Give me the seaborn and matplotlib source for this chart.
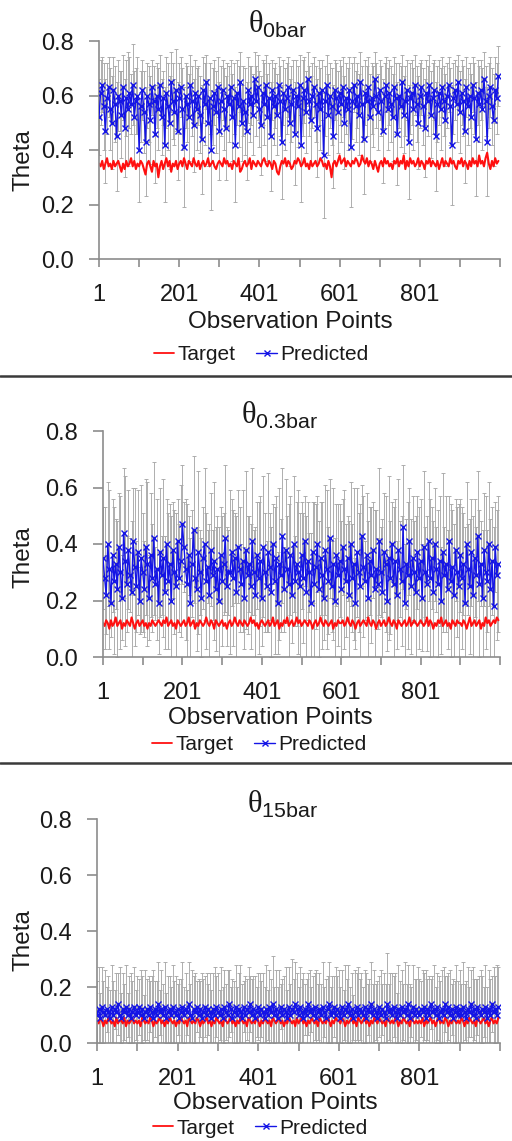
import numpy as np
import matplotlib
matplotlib.use("Agg")
import matplotlib.pyplot as plt
from matplotlib.lines import Line2D
import seaborn as sns

# Observation points (sampled every 4 points along the 1..1000 axis)
obs = np.arange(1, 1000, 4)

# Values in hundredths of theta
target_0bar = [35,34,36,33,35,37,34,35,33,36,34,35,36,34,32,35,33,36,34,35,37,34,36,33,35,
               34,36,35,33,31,35,36,34,32,36,34,35,30,34,36,33,35,37,34,36,32,35,34,36,33,
               35,36,34,37,35,33,36,35,34,37,35,34,36,33,35,36,34,35,37,34,35,36,34,33,35,
               36,35,34,37,35,36,34,35,33,36,35,34,37,32,33,35,36,34,35,37,33,36,35,34,36,
               35,34,36,37,35,34,36,35,33,36,35,32,31,34,36,35,37,34,36,35,33,34,36,35,37,
               36,34,35,37,34,35,33,36,34,35,36,34,35,37,36,34,35,33,36,34,30,35,36,34,36,
               38,35,36,37,34,36,35,34,36,35,37,36,34,35,38,36,35,37,34,36,35,33,36,34,32,
               35,36,34,37,35,36,34,35,33,36,35,37,34,36,35,38,33,36,34,37,35,36,34,35,37,
               34,36,35,33,36,35,37,34,36,35,34,36,33,35,37,34,36,35,34,37,35,36,34,33,36,
               35,37,34,36,35,33,36,34,37,35,36,34,38,35,36,34,37,39,35,33,36,34,37,35,36]
pred_0bar = [52,61,64,56,47,59,63,55,50,62,57,45,60,58,53,63,48,59,55,61,57,64,52,58,60,
             40,56,62,54,43,60,57,51,63,58,46,60,55,64,52,59,42,61,56,50,65,58,54,62,47,
             59,63,55,41,60,57,52,64,58,49,61,55,60,53,44,62,57,65,50,59,40,56,61,54,63,
             47,58,62,55,48,60,57,63,52,59,42,61,56,65,50,58,54,47,62,57,60,53,66,58,63,
             55,49,61,57,64,52,59,45,62,56,60,53,64,58,43,61,55,59,63,50,57,62,46,60,56,
             64,42,59,62,54,66,58,51,60,63,57,48,61,55,62,38,58,64,53,60,56,45,62,59,54,
             61,57,63,50,59,55,62,41,58,64,56,60,53,65,57,44,61,58,63,52,59,56,66,60,54,
             62,58,47,60,64,55,61,57,52,63,59,46,60,56,65,53,58,62,43,59,61,55,64,57,50,
             60,63,56,48,61,58,64,53,59,62,45,57,61,55,63,58,51,60,64,56,42,59,62,57,65,
             54,61,58,47,63,56,60,52,64,59,44,61,57,62,55,66,58,43,60,63,56,51,62,59,67]
err_0bar = [14,12,10,16,19,13,11,15,17,12,14,20,13,11,16,12,18,14,21,13,11,15,17,12,14,
            19,13,11,15,20,12,14,16,10,13,18,12,15,11,14,10,21,13,16,17,11,14,12,15,18,
            13,11,15,22,12,14,16,11,13,17,12,15,11,14,20,12,15,10,16,13,22,14,12,15,11,
            18,13,11,15,19,12,14,10,16,13,21,12,15,11,14,13,16,18,12,14,11,15,10,13,12,
            14,18,12,15,11,16,13,20,11,14,12,15,10,13,21,12,15,13,11,16,14,11,19,13,15,
            11,21,14,12,15,10,13,16,12,11,14,18,12,15,11,23,13,11,15,12,14,19,11,13,15,
            12,14,11,17,13,15,12,22,14,10,13,12,15,11,14,20,12,13,11,16,13,15,10,12,14,
            11,13,19,12,10,15,12,14,16,11,13,19,12,15,10,14,13,11,21,13,12,15,11,14,17,
            12,10,14,18,12,13,11,16,13,11,20,14,12,15,11,13,17,12,10,14,22,13,11,14,10,
            15,12,13,19,11,14,12,16,10,13,21,12,14,11,15,10,13,20,12,11,14,17,12,13,11]

target_03bar = [12,11,13,12,10,13,11,12,14,11,12,13,10,12,11,13,12,11,14,12,10,12,13,11,12,
                13,11,12,10,12,11,13,12,11,12,13,12,11,13,12,14,11,12,13,11,12,10,13,12,11,
                12,13,11,12,14,11,12,13,10,12,11,13,12,11,12,14,12,11,13,12,10,13,12,11,12,
                13,11,12,10,12,13,11,12,14,12,11,13,12,11,13,12,11,12,14,12,13,11,12,10,12,
                13,12,11,12,13,11,12,14,11,12,13,10,12,11,13,12,14,11,12,13,11,12,14,12,13,
                11,12,13,12,11,13,12,10,12,13,11,12,14,12,11,13,12,11,12,13,10,12,11,13,12,
                12,13,11,12,14,12,11,13,12,10,12,13,11,12,13,12,11,14,12,11,13,12,10,12,13,
                11,12,13,11,12,14,12,11,13,12,10,13,12,11,12,13,11,12,14,11,12,13,12,11,12,
                13,12,11,12,14,11,13,12,10,12,11,13,12,14,11,12,13,11,12,10,13,12,11,13,12,
                12,11,13,12,10,12,14,11,12,13,11,12,13,10,12,11,14,12,13,11,12,13,12,14,13]
pred_03bar = [35,28,22,40,31,19,36,27,33,24,39,30,21,44,34,26,38,29,23,41,32,25,37,20,35,
              30,24,39,33,21,36,28,42,26,31,19,37,29,35,23,40,27,33,20,38,30,25,41,28,34,
              47,39,31,26,36,19,33,45,28,24,37,30,21,35,40,27,32,22,38,29,34,24,31,20,36,
              27,33,42,25,30,30,37,28,35,23,39,31,26,34,21,38,29,33,25,41,30,22,36,28,34,
              21,39,30,25,37,32,23,40,27,35,19,33,29,43,24,38,31,26,36,22,40,27,33,30,25,
              36,28,41,23,34,30,19,37,26,32,40,24,35,29,21,38,31,27,42,25,33,20,36,29,34,
              24,39,31,27,35,22,40,28,33,19,37,30,25,43,32,27,36,21,34,29,38,24,31,26,41,
              30,23,37,33,20,35,28,40,26,34,22,38,31,27,46,19,33,29,41,25,35,30,23,37,28,
              34,21,39,30,26,41,28,35,23,40,31,26,34,20,37,29,33,24,41,27,32,22,38,30,25,
              36,28,33,19,40,31,25,37,22,35,29,43,26,33,21,38,30,27,40,24,34,18,39,29,33]
err_03bar = [18,25,14,22,28,12,20,26,16,24,19,27,15,23,30,17,21,13,25,19,28,16,22,12,26,
             21,17,24,29,15,22,19,27,13,25,18,23,14,28,20,16,24,21,30,17,22,26,15,19,27,
             21,16,25,28,14,23,19,26,17,22,29,15,21,18,27,24,13,25,20,16,28,22,19,26,17,
             23,18,26,21,15,29,19,24,16,27,20,22,14,25,18,28,21,17,22,26,15,24,19,27,23,
             17,25,21,16,28,19,23,14,26,22,18,27,20,24,15,25,19,28,21,17,24,16,22,29,26,
             19,23,16,27,21,14,25,18,29,22,17,24,20,26,15,23,28,19,21,16,27,22,18,25,20,
             24,17,28,20,15,26,22,19,27,16,23,21,29,18,25,14,22,27,19,24,17,28,21,16,26,
             16,26,21,24,18,29,20,15,27,22,19,25,17,23,22,21,16,26,19,24,22,18,27,20,25,
             22,19,27,16,24,21,28,18,25,20,15,26,23,19,28,17,24,21,16,27,20,25,18,23,29,
             20,25,18,27,22,16,24,19,28,21,17,23,26,15,24,20,27,18,22,25,19,28,16,23,24]

target_15bar = [8,7,9,8,6,8,7,9,8,7,8,6,9,7,8,8,7,9,6,8,7,8,9,7,8,
                7,8,6,9,8,7,8,7,9,8,6,8,7,8,9,7,8,6,8,7,9,8,7,8,6,
                8,7,9,8,7,8,6,9,8,7,8,7,9,8,6,8,7,8,9,7,8,6,8,7,9,
                8,7,8,6,9,8,7,8,9,7,8,6,8,7,9,8,7,8,6,9,8,7,8,7,9,
                8,6,8,7,9,8,7,8,6,9,8,7,8,9,7,8,6,8,7,9,8,7,8,6,9,
                7,8,9,7,8,6,8,7,9,8,7,8,6,9,8,7,8,7,9,8,6,8,7,9,8,
                8,7,9,8,6,8,7,8,9,7,8,6,9,8,7,8,9,7,8,6,8,7,9,8,7,
                9,8,7,8,6,9,8,7,8,7,9,8,6,8,7,9,8,7,8,6,9,8,7,8,7,
                8,7,9,6,8,7,8,9,7,8,6,8,9,7,8,7,9,8,6,8,7,9,8,7,8,
                7,9,8,6,8,7,9,8,7,8,6,9,8,7,8,9,7,8,6,8,9,7,8,7,9]
pred_15bar = [10,12,9,13,11,10,12,11,9,13,10,12,11,14,10,9,12,11,13,10,12,9,11,13,10,
              11,13,10,12,9,11,12,10,13,11,9,12,10,14,11,12,10,13,9,11,12,10,13,11,10,
              12,9,11,13,10,12,11,14,10,9,12,11,13,10,12,9,11,13,10,12,11,9,12,10,13,
              11,10,12,9,13,11,10,14,12,9,11,13,10,12,11,9,13,10,12,11,14,10,12,9,11,
              13,10,12,11,9,12,10,13,11,14,10,12,9,11,13,10,12,11,9,13,10,12,11,14,12,
              10,13,11,9,12,10,14,11,12,10,13,9,11,12,10,13,11,9,12,14,10,11,13,10,12,
              11,9,13,10,12,11,14,10,12,9,11,13,10,12,11,10,13,9,12,11,14,10,12,11,9,
              13,10,12,11,9,14,11,12,10,13,11,9,12,10,13,11,12,10,14,9,11,13,10,12,11,
              10,12,11,13,9,12,10,14,11,12,10,13,9,11,12,10,14,11,13,10,12,9,11,13,10,
              12,10,13,11,9,12,11,14,10,12,9,13,11,10,12,11,13,9,12,10,14,11,12,10,13]
err_15bar = [12,15,9,14,11,16,8,13,10,15,12,7,14,11,17,9,13,10,15,8,12,16,11,14,9,
             13,10,16,12,8,15,11,14,9,13,17,10,12,15,8,14,11,16,9,13,12,10,15,11,14,
             9,14,12,16,10,13,8,15,11,17,12,14,9,13,10,16,12,11,15,9,14,10,13,17,11,
             14,9,15,11,13,10,16,12,8,14,11,15,10,13,17,12,9,14,11,16,10,13,12,15,9,
             12,15,10,14,11,16,9,13,12,17,10,14,11,15,8,13,12,16,10,14,11,18,12,15,13,
             10,14,12,16,9,13,11,15,8,14,12,17,10,13,11,16,9,14,12,15,10,13,11,17,12,
             15,11,13,9,16,12,14,10,13,8,15,12,17,11,14,10,13,16,9,12,15,11,14,10,13,
             11,16,9,14,12,18,10,13,15,11,14,9,16,12,13,10,17,11,14,12,9,15,13,11,16,
             13,10,15,12,17,11,14,9,13,16,10,12,15,11,14,17,10,13,12,16,9,14,11,15,12,
             14,11,16,10,13,15,9,12,17,11,14,10,13,16,12,9,15,11,14,13,10,16,12,18,14]

titles = [r"$\mathrm{\theta}_{\mathsf{0bar}}$", r"$\mathrm{\theta}_{\mathsf{0.3bar}}$",
          r"$\mathrm{\theta}_{\mathsf{15bar}}$"]
series_names = ["Target", "Predicted"]
y_ticks = [0.0, 0.2, 0.4, 0.6, 0.8]
x_ticks = list(range(1, 1002, 100))
x_ticklabels = ["1", "", "201", "", "401", "", "601", "", "801", "", ""]

sns.set_style("ticks")
plt.rcParams['font.family'] = ['Liberation Sans', 'DejaVu Sans']
plt.rcParams['mathtext.fontset'] = 'custom'
plt.rcParams['mathtext.rm'] = 'Liberation Serif'
plt.rcParams['mathtext.sf'] = 'Liberation Sans'

W, H = 512, 1141
fig = plt.figure(figsize=(W / 100, H / 100), dpi=100)

def fx(px):
    return px / W

def fy(py):
    return 1 - py / H

# layout per panel in pixels: left, right, top(0.8), bottom(0.0)
layout = [
    dict(l=99, r=500, t=41, b=259, title=(278, 24), ylab=(24, 160), xlab=(290, 322), leg=(261, 355)),
    dict(l=103, r=500, t=431, b=657, title=(280, 415), ylab=(24, 557), xlab=(270, 718), leg=(259, 745)),
    dict(l=97, r=500, t=819, b=1043, title=(283, 804), ylab=(23, 940), xlab=(275, 1103), leg=(260, 1128)),
]
data = [
    (target_0bar, pred_0bar, err_0bar),
    (target_03bar, pred_03bar, err_03bar),
    (target_15bar, pred_15bar, err_15bar),
]

red = "#ff1010"
blue = "#1414e6"
axis_gray = "#8c8c8c"

for lay, (tgt, prd, err), title in zip(layout, data, titles):
    ax = fig.add_axes([fx(lay['l']), fy(lay['b']), fx(lay['r'] - lay['l']), (lay['b'] - lay['t']) / H])
    tgt = np.array(tgt) / 100
    prd = np.array(prd) / 100
    err = np.array(err) / 100
    ax.errorbar(obs, prd, yerr=err, fmt='none', ecolor='#a8a8a8', elinewidth=0.65,
                capsize=1.5, capthick=0.65, zorder=1)
    sns.lineplot(x=obs, y=tgt, color=red, lw=1.5, ax=ax, estimator=None,
                 errorbar=None, zorder=2)
    sns.lineplot(x=obs, y=prd, color=blue, lw=1.0, marker='x', markersize=5,
                 markeredgewidth=1.0, markeredgecolor=blue, ax=ax, estimator=None,
                 errorbar=None, zorder=3)
    ax.set_xlim(1, 1001)
    ax.set_ylim(0, 0.8)
    ax.set_yticks(y_ticks)
    ax.set_yticklabels([f"{v:.1f}" for v in y_ticks])
    ax.set_xticks(x_ticks)
    ax.set_xticklabels(x_ticklabels)
    ax.set_xlabel("")
    ax.set_ylabel("")
    for s in ['top', 'right']:
        ax.spines[s].set_visible(False)
    for s in ['left', 'bottom']:
        ax.spines[s].set_color(axis_gray)
        ax.spines[s].set_linewidth(1.2)
    ax.tick_params(axis='both', direction='out', color=axis_gray, width=1.2,
                   labelsize=17, labelcolor='#1a1a1a')
    ax.tick_params(axis='y', length=7, pad=11)
    ax.tick_params(axis='x', length=6, pad=12)

    fig.text(fx(lay['title'][0]), fy(lay['title'][1]), title, ha='center', va='center',
             fontsize=22, color='#1a1a1a')
    fig.text(fx(lay['ylab'][0]), fy(lay['ylab'][1]), "Theta", rotation=90, ha='center',
             va='center', fontsize=17.5, color='#1a1a1a')
    fig.text(fx(lay['xlab'][0]), fy(lay['xlab'][1]), "Observation Points", ha='center',
             va='center', fontsize=17.5, color='#1a1a1a')
    handles = [Line2D([], [], color=red, lw=1.3),
               Line2D([], [], color=blue, lw=1.0, marker='x', markersize=4, markeredgewidth=1.0)]
    fig.legend(handles, series_names, loc='center', bbox_to_anchor=(fx(lay['leg'][0]), fy(lay['leg'][1])),
               ncol=2, frameon=False, fontsize=15, handlelength=1.0, handletextpad=0.15,
               columnspacing=1.0, borderpad=0, labelcolor='#1a1a1a')

# separator lines between panels
for ypx in (376, 763):
    fig.add_artist(Line2D([0, 1], [fy(ypx), fy(ypx)], color='#3a3a3a', lw=1.8,
                          transform=fig.transFigure))

fig.savefig("out.png", dpi=100)
